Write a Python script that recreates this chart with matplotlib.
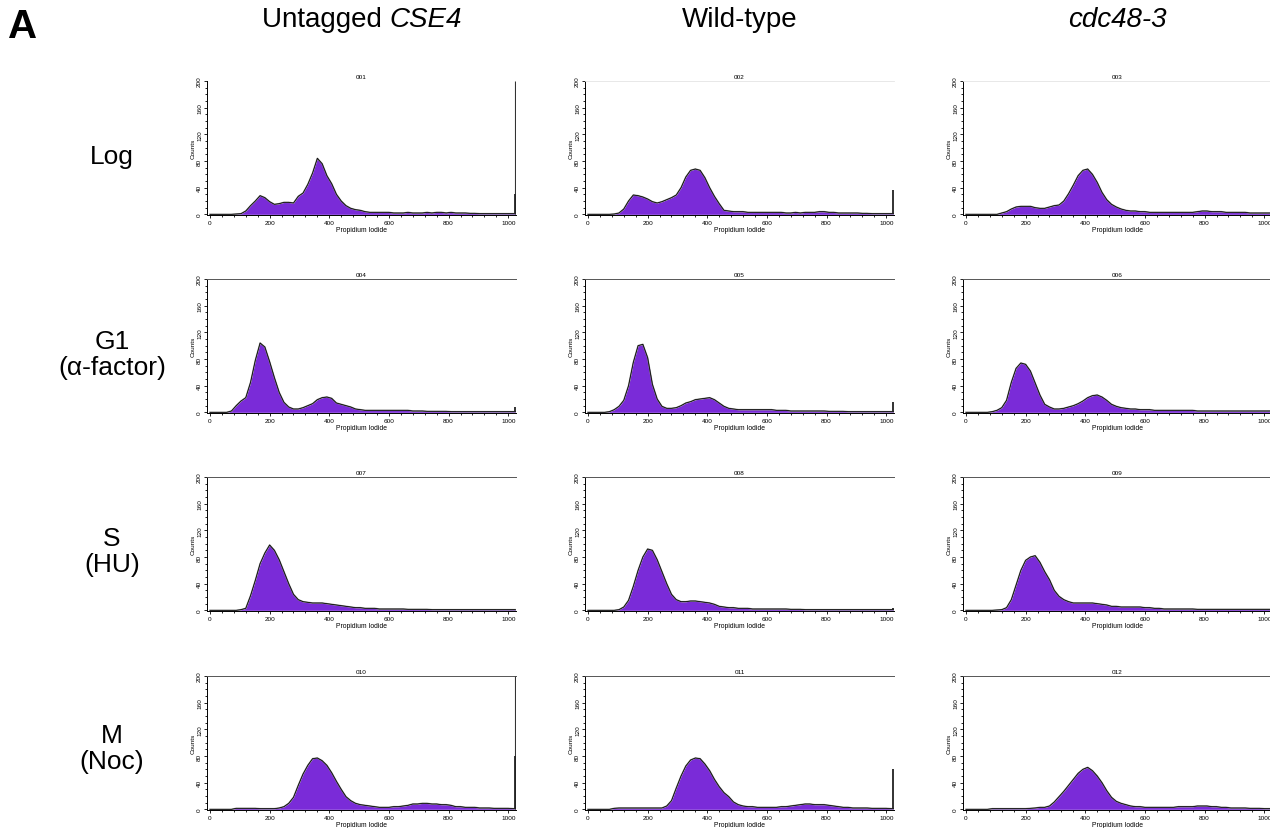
import numpy as np
import matplotlib
matplotlib.use("Agg")
import matplotlib.pyplot as plt
from matplotlib.ticker import MultipleLocator

plt.rcParams['font.family'] = ['Liberation Sans', 'DejaVu Sans']

# ---------------- data ----------------
bin_edges = np.arange(0, 1024 + 16, 16)   # 64 bins of 16 channels (Propidium Iodide)
bin_centers = (bin_edges[:-1] + bin_edges[1:]) / 2

col_labels = [("Untagged ", "CSE4"), ("Wild-type", ""), ("", "cdc48-3")]
row_labels = ["Log", "G1\n(\u03b1-factor)", "S\n(HU)", "M\n(Noc)"]
panel_ids = ["001", "002", "003", "004", "005", "006",
             "007", "008", "009", "010", "011", "012"]

h001 = [0, 0, 0, 0, 0, 0.5, 1, 5,
        13, 20, 28, 25, 19, 15, 16, 18,
        18, 17, 27, 32, 45, 62, 84, 76,
        58, 46, 30, 20, 13, 9, 7, 6,
        4, 3, 3, 3, 3, 3, 2, 2,
        2, 3, 2, 2, 2, 3, 2, 3,
        3, 2, 3, 2, 2, 2, 1.5, 1.5,
        1, 1, 1, 1, 1, 1, 1, 1]
h002 = [0, 0, 0, 0, 0, 0.5, 2, 8,
        20, 29, 28, 26, 23, 19, 17, 19,
        22, 25, 29, 40, 56, 66, 68, 66,
        55, 40, 27, 16, 6, 5, 4, 4,
        4, 3, 3, 3, 3, 3, 3, 3,
        3, 2, 2, 3, 2, 3, 3, 3,
        4, 4, 3, 3, 2, 2, 2, 2,
        2, 1.5, 1.5, 1, 1, 1, 1, 1]
h003 = [0, 0, 0, 0, 0, 0, 0, 2,
        4, 8, 11, 12, 12, 12, 10, 9,
        9, 11, 13, 14, 20, 31, 44, 58,
        66, 68, 60, 48, 33, 22, 15, 11,
        8, 6, 5, 5, 4, 4, 3, 3,
        3, 3, 3, 3, 3, 3, 3, 3,
        4, 5, 5, 4, 4, 4, 3, 3,
        3, 3, 3, 2, 2, 2, 2, 2]
h004 = [0, 0, 0, 0, 2, 10, 17, 22,
        45, 78, 104, 98, 76, 52, 30, 15,
        8, 5, 5, 7, 10, 13, 19, 22,
        23, 21, 14, 12, 10, 8, 5, 4,
        3, 3, 3, 3, 3, 3, 3, 3,
        3, 3, 2, 2, 2, 1.5, 1.5, 1.5,
        1.5, 1.5, 1, 1, 1, 1, 1, 1,
        1, 1, 1, 1, 1, 1, 1, 1]
h005 = [0, 0, 0, 0, 1, 4, 9, 18,
        40, 75, 100, 102, 82, 42, 20, 9,
        6, 6, 7, 10, 14, 16, 19, 20,
        21, 22, 19, 14, 9, 6, 5, 4,
        4, 4, 4, 4, 4, 4, 4, 3,
        3, 3, 2, 2, 2, 2, 2, 2,
        2, 2, 1.5, 1.5, 1.5, 1.5, 1, 1,
        1, 1, 1, 1, 1, 1, 1, 1]
h006 = [0, 0, 0, 0, 0, 1, 3, 7,
        18, 45, 66, 74, 72, 62, 44, 26,
        12, 8, 5, 5, 6, 8, 10, 13,
        17, 22, 25, 26, 23, 18, 12, 9,
        7, 6, 5, 5, 4, 4, 4, 3,
        3, 3, 3, 3, 3, 3, 3, 3,
        2, 2, 2, 2, 2, 2, 2, 2,
        2, 2, 2, 2, 2, 2, 2, 2]
h007 = [0, 0, 0, 0, 0, 0, 1, 3,
        22, 45, 70, 86, 98, 90, 76, 58,
        40, 24, 16, 13, 12, 11, 11, 11,
        10, 9, 8, 7, 6, 5, 4, 4,
        3, 3, 3, 2, 2, 2, 2, 2,
        2, 1.5, 1.5, 1.5, 1.5, 1.5, 1, 1,
        1, 1, 1, 1, 1, 1, 1, 1,
        1, 1, 1, 1, 1, 1, 1, 1]
h008 = [0, 0, 0, 0, 0, 0, 1, 5,
        15, 36, 60, 80, 92, 90, 76, 58,
        40, 24, 16, 13, 13, 14, 14, 13,
        12, 11, 9, 6, 5, 4, 4, 3,
        3, 3, 2, 2, 2, 2, 2, 2,
        2, 2, 1.5, 1.5, 1.5, 1, 1, 1,
        1, 1, 1, 1, 1, 1, 1, 1,
        1, 1, 1, 1, 1, 1, 1, 1]
h009 = [0, 0, 0, 0, 0, 0, 0.5, 1,
        4, 16, 38, 60, 75, 80, 82, 72,
        58, 46, 30, 21, 16, 13, 11, 11,
        11, 11, 11, 10, 9, 8, 6, 6,
        5, 5, 5, 5, 5, 4, 4, 3,
        3, 2, 2, 2, 2, 2, 2, 2,
        1.5, 1.5, 1.5, 1.5, 1.5, 1.5, 1.5, 1.5,
        1.5, 1.5, 1.5, 1.5, 1.5, 1.5, 1.5, 1.5]
h010 = [0, 0, 0, 0, 0, 1.5, 1.5, 1.5,
        1.5, 1.5, 1, 1, 1, 1, 2, 4,
        9, 18, 36, 53, 66, 76, 77, 73,
        66, 55, 42, 30, 19, 13, 9, 7,
        6, 5, 4, 3, 3, 3, 4, 4,
        5, 6, 8, 8, 9, 9, 8, 8,
        7, 7, 6, 4, 4, 3, 3, 3,
        2, 2, 2, 1.5, 1.5, 1.5, 1.5, 1]
h011 = [0, 0, 0, 0, 0, 1.5, 2, 2,
        2, 2, 2, 2, 2, 2, 2, 2,
        5, 13, 32, 50, 65, 74, 77, 76,
        68, 58, 45, 34, 25, 19, 11, 7,
        5, 4, 4, 3, 3, 3, 3, 3,
        4, 4, 5, 6, 7, 8, 8, 7,
        7, 7, 6, 5, 4, 3, 3, 2,
        2, 2, 2, 1.5, 1.5, 1.5, 1.5, 1]
h012 = [0, 0, 0, 0, 0, 1, 1, 1,
        1, 1, 1, 1, 1, 1.5, 2, 3,
        3, 5, 11, 19, 27, 36, 45, 54,
        60, 63, 58, 50, 40, 28, 18, 12,
        9, 7, 5, 4, 4, 3, 3, 3,
        3, 3, 3, 3, 4, 4, 4, 4,
        5, 5, 5, 4, 4, 3, 3, 2,
        2, 2, 2, 1.5, 1.5, 1.5, 1, 1]

histograms = [h001, h002, h003, h004, h005, h006,
              h007, h008, h009, h010, h011, h012]

# counts piled up in the last channel (1023)
end_spike = [30, 37, 0, 8, 15, 0, 0, 3, 3, 80, 60, 0]
end_offscale = [True, False, False, False, False, False,
                False, False, False, True, False, False]

# ---------------- figure ----------------
W, H = 1270, 829
fig = plt.figure(figsize=(W / 100, H / 100), dpi=100)
fig.patch.set_facecolor('white')

col_left_px = [207, 585, 963]
row_top_px = [82, 280, 478, 677]
ax_w_px, ax_h_px = 309, 134

fill_color = '#7a2bd8'
small = 4.6

for r in range(4):
    for c in range(3):
        k = r * 3 + c
        left = col_left_px[c] / W
        bottom = 1 - (row_top_px[r] + ax_h_px) / H
        ax = fig.add_axes([left, bottom, ax_w_px / W, ax_h_px / H])
        vals = np.array(histograms[k], dtype=float)
        xs = np.concatenate([[0], bin_centers, [1024]])
        ys = np.concatenate([[vals[0]], vals, [vals[-1]]])
        ax.fill_between(xs, 0, ys, color=fill_color, lw=0, zorder=2)
        ax.plot(xs, ys, color='#8a8a8a', lw=1.1, zorder=2.5)
        ax.plot(xs, ys, color='black', lw=0.55, zorder=3)
        if end_offscale[k]:
            ax.vlines(1023, 0, 200, color='#333333', lw=0.8, zorder=3)
        if end_spike[k] > 0:
            ax.vlines(1022, 0, end_spike[k], color='#222222', lw=1.3, zorder=3)

        ax.set_xlim(-10, 1026)
        ax.set_ylim(-1, 200)
        ax.xaxis.set_major_locator(MultipleLocator(200))
        ax.xaxis.set_minor_locator(MultipleLocator(40))
        ax.yaxis.set_major_locator(MultipleLocator(40))
        ax.yaxis.set_minor_locator(MultipleLocator(10))
        ax.tick_params(axis='both', which='major', length=2, width=0.6,
                       labelsize=small, pad=1.5, direction='out')
        ax.tick_params(axis='both', which='minor', length=1.2, width=0.6,
                       direction='out')
        for lab in ax.get_yticklabels():
            lab.set_rotation(90)
            lab.set_va('center')
        for s in ['left', 'bottom']:
            ax.spines[s].set_linewidth(0.7)
            ax.spines[s].set_color('black')
        ax.spines['right'].set_visible(False)
        if r == 0:
            if c == 0:
                ax.spines['top'].set_visible(False)
            else:
                ax.spines['top'].set_color('#e4e4e4')
                ax.spines['top'].set_linewidth(0.6)
        else:
            ax.spines['top'].set_color('#555555')
            ax.spines['top'].set_linewidth(0.7)
        ax.set_title(panel_ids[k], fontsize=small, pad=2)
        ax.set_ylabel('Counts', fontsize=small, labelpad=1)
        ax.set_xlabel('Propidium Iodide', fontsize=small + 0.3, labelpad=0.5)
        ax.patch.set_alpha(0)

# column headers (upright part + italic part, centred together)
fig.canvas.draw()
renderer = fig.canvas.get_renderer()
header_y = 1 - 27 / H
for c in range(3):
    xc_px = col_left_px[c] + ax_w_px / 2
    up, it = col_labels[c]
    t1 = fig.text(0, header_y, up, ha='left', va='baseline', fontsize=20)
    t2 = fig.text(0, header_y, it, ha='left', va='baseline', fontsize=20,
                  style='italic')
    w1 = t1.get_window_extent(renderer).width if up else 0
    w2 = t2.get_window_extent(renderer).width if it else 0
    x0 = xc_px - (w1 + w2) / 2
    t1.set_x(x0 / W)
    t2.set_x((x0 + w1) / W)

# row labels
row_center_px = [157, 355, 552, 749]
for r in range(4):
    fig.text(112 / W, 1 - row_center_px[r] / H, row_labels[r], ha='center',
             va='center', fontsize=19, linespacing=1.15)

fig.text(8 / W, 1 - 38 / H, 'A', ha='left', va='baseline', fontsize=29,
         fontweight='bold')

fig.savefig('out.png', dpi=100)
